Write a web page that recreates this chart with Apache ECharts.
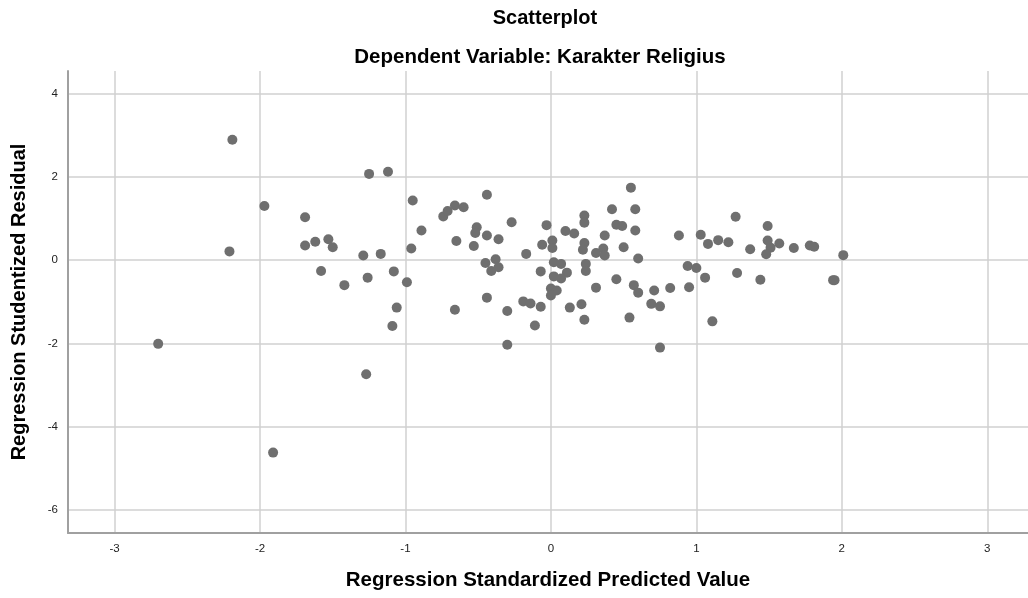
<!DOCTYPE html>
<html>
<head>
<meta charset="utf-8">
<script src="https://cdn.jsdelivr.net/npm/echarts@6/dist/echarts.min.js"></script>
<style>
html,body{margin:0;padding:0;background:#fff;}
#main{width:1028px;height:598px;}
</style>
</head>
<body>
<div id="main"></div>
<script>
// Regression Standardized Predicted Value
const predicted = [
-2.19,-1.25,-1.12,-1.97,-1.69,-2.21,-1.69,-1.62,-1.53,-1.50,
-1.29,-1.17,-1.58,-1.42,-1.26,-1.08,-1.06,-1.09,-2.70,-1.27,
-1.91,-0.95,-0.74,-0.71,-0.66,-0.60,-0.89,-0.51,-0.52,-0.65,
-0.53,-0.96,-0.44,-0.44,-0.36,-0.27,-0.03,-0.17,-0.06,0.01,
0.01,0.10,0.16,0.23,0.23,0.23,0.22,0.31,0.36,0.37,
0.37,0.42,0.45,0.49,0.50,0.55,0.58,0.58,0.60,0.88,
1.03,1.08,1.15,-0.99,-0.45,-0.38,-0.36,-0.41,-0.07,0.02,
0.07,0.11,0.02,0.07,0.24,0.24,0.31,0.45,0.57,0.60,
0.71,0.82,0.94,1.00,1.06,0.95,0.00,0.04,0.00,-0.44,
-0.19,-0.14,-0.07,-0.30,0.13,0.21,0.23,-0.11,0.54,0.69,
0.75,-0.30,0.75,-0.66,1.11,1.28,1.44,1.94,1.95,2.01,
1.22,1.27,1.37,1.49,1.49,1.51,1.48,1.57,1.67,1.78,
1.81
];
// Regression Studentized Residual
const residual = [
2.89,2.07,2.12,1.30,1.03,0.21,0.35,0.44,0.50,0.31,
0.11,0.15,-0.26,-0.60,-0.42,-0.27,-1.14,-1.58,-2.01,-2.74,
-4.62,1.43,1.05,1.18,1.31,1.27,0.71,0.79,0.65,0.46,
0.34,0.28,1.57,0.59,0.50,0.91,0.84,0.15,0.37,0.47,
0.29,0.70,0.64,1.07,0.90,0.41,0.25,0.17,0.28,0.59,
0.11,1.22,0.85,0.82,0.31,1.74,1.22,0.71,0.04,0.59,
0.61,0.39,0.48,-0.53,-0.07,0.02,-0.17,-0.26,-0.27,-0.05,
-0.09,-0.30,-0.39,-0.44,-0.09,-0.26,-0.66,-0.46,-0.60,-0.78,
-0.73,-0.67,-0.14,-0.19,-0.42,-0.65,-0.68,-0.73,-0.85,-0.90,
-0.99,-1.04,-1.12,-1.22,-1.14,-1.06,-1.43,-1.57,-1.38,-1.05,
-1.11,-2.03,-2.10,-1.19,-1.47,-0.31,-0.47,-0.48,-0.48,0.12,
0.43,1.04,0.26,0.82,0.47,0.30,0.14,0.40,0.29,0.35,
0.32
];
const xTicks = [-3,-2,-1,0,1,2,3];
const yTicks = [-6,-4,-2,0,2,4];

const titleText = 'Scatterplot';
const subtitleText = 'Dependent Variable: Karakter Religius';
const xName = 'Regression Standardized Predicted Value';
const yName = 'Regression Studentized Residual';

const points = predicted.map((x, i) => [x, residual[i]]);

const chart = echarts.init(document.getElementById('main'), null, {renderer: 'canvas'});
const FONT = 'Liberation Sans, Arial, sans-serif';
const gridColor = '#d0d0d0';

chart.setOption({
  backgroundColor: '#ffffff',
  animation: false,
  graphic: [
    {type: 'text', x: 545, y: 18, style: {text: titleText, font: 'bold 20px ' + FONT, fill: '#000', align: 'center', verticalAlign: 'middle'}},
    {type: 'text', x: 540, y: 57, style: {text: subtitleText, font: 'bold 20.5px ' + FONT, fill: '#000', align: 'center', verticalAlign: 'middle'}}
  ],
  grid: {left: 68, right: 0, top: 71, bottom: 65, containLabel: false},
  xAxis: {
    type: 'value', min: -3.32, max: 3.28,
    name: xName, nameLocation: 'middle', nameGap: 37,
    nameTextStyle: {fontFamily: FONT, fontWeight: 'bold', fontSize: 20.5, color: '#000'},
    axisLine: {show: true, onZero: false, lineStyle: {color: '#a0a0a0', width: 2}},
    axisTick: {show: false, customValues: xTicks},
    axisLabel: {fontFamily: FONT, fontSize: 11.5, color: '#222', margin: 10, customValues: xTicks},
    splitLine: {show: true, lineStyle: {color: gridColor, width: 1.5}}
  },
  yAxis: {
    type: 'value', min: -6.55, max: 4.54,
    name: yName, nameLocation: 'middle', nameGap: 39, nameRotate: 90,
    nameTextStyle: {fontFamily: FONT, fontWeight: 'bold', fontSize: 20, color: '#000'},
    axisLine: {show: true, onZero: false, lineStyle: {color: '#a0a0a0', width: 2}},
    axisTick: {show: false, customValues: yTicks},
    axisLabel: {fontFamily: FONT, fontSize: 11.5, color: '#222', margin: 10, customValues: yTicks},
    splitLine: {show: true, lineStyle: {color: gridColor, width: 1.5}}
  },
  series: [{
    type: 'scatter',
    data: points,
    symbol: 'circle',
    symbolSize: 10,
    itemStyle: {color: '#6f6f6f', opacity: 1},
    silent: true
  }]
});
</script>
</body>
</html>
